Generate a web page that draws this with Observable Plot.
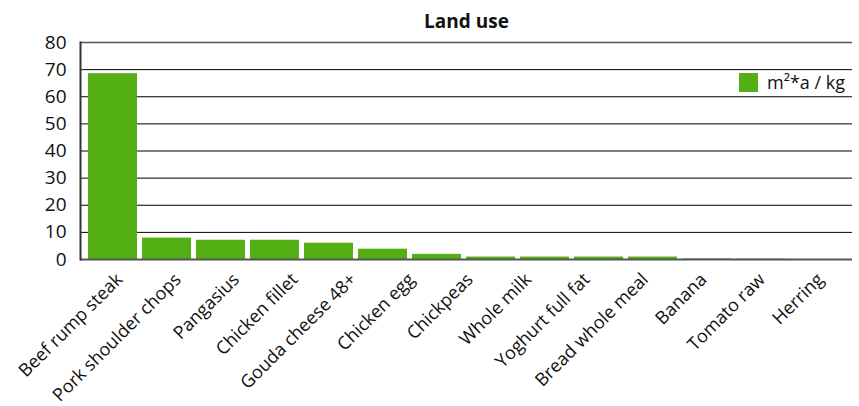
<!DOCTYPE html>
<html>
<head>
<meta charset="utf-8">
<script src="https://cdn.jsdelivr.net/npm/d3@7"></script>
<script src="https://cdn.jsdelivr.net/npm/@observablehq/plot@0.6"></script>
<style>
  body { margin: 0; background: #fff; font-family: "Open Sans", sans-serif; }
  #wrap { position: relative; width: 859px; height: 406px; }
  #wrap svg { position: absolute; left: 0; top: 0; }
  #legend { position: absolute; left: 739px; top: 72px; display: flex; align-items: center; font-size: 18px; color: #111; line-height: 20px; }
  #legend .sw { width: 19px; height: 19px; background: #53af14; margin-right: 9px; }
</style>
</head>
<body>
<div id="wrap"></div>
<script>
const categories = ["Beef rump steak", "Pork shoulder chops", "Pangasius", "Chicken fillet", "Gouda cheese 48+", "Chicken egg", "Chickpeas", "Whole milk", "Yoghurt full fat", "Bread whole meal", "Banana", "Tomato raw", "Herring"];
const values = [68.5, 7.9, 7.1, 7.1, 6.0, 3.8, 1.9, 0.9, 0.9, 0.9, 0.9, 0.2, 0.15];
const yTicks = [0, 10, 20, 30, 40, 50, 60, 70, 80];
const title = "Land use";
const seriesName = "m²*a / kg";

const data = categories.map((c, i) => ({category: c, value: values[i]}));
const green = "#53af14";
const font = "'Open Sans', sans-serif";
const common = {width: 859, height: 406, marginTop: 42, marginBottom: 147, marginLeft: 80, marginRight: 7};

const chart = Plot.plot({
  ...common,
  style: {fontFamily: font, color: "#111", background: "#fff"},
  x: {domain: categories, range: [88, 785], paddingInner: 0.0926, paddingOuter: 0, round: false, axis: null},
  y: {domain: [0, 80], ticks: yTicks, label: null},
  marks: [
    Plot.gridY(yTicks.filter(d => d > 0 && d < 80), {stroke: "#000", strokeOpacity: 1, strokeWidth: 1}),
    Plot.gridY([80], {stroke: "#555", strokeOpacity: 1, strokeWidth: 1.5}),
    Plot.barY(data, {x: "category", y: "value", fill: green}),
    Plot.ruleY([0], {stroke: "#555", strokeWidth: 2}),
    Plot.frame({anchor: "left", stroke: "#333", strokeWidth: 2}),
    Plot.axisY(yTicks, {tickSize: 0, tickPadding: 14, fontSize: 19, label: null}),
    Plot.text([title], {frameAnchor: "top", dy: -28, fontWeight: "bold", fontSize: 19})
  ]
});

const labels = Plot.plot({
  ...common,
  style: {fontFamily: font, color: "#111", background: "transparent"},
  x: {type: "point", domain: categories, range: [119, 820], padding: 0, round: false, label: null},
  marks: [
    Plot.axisX({tickSize: 0, tickRotate: -45, tickPadding: 17, fontSize: 18, label: null})
  ]
});

const wrap = document.getElementById("wrap");
wrap.appendChild(chart);
wrap.appendChild(labels);
const lg = document.createElement("div");
lg.id = "legend";
lg.innerHTML = `<span class="sw"></span><span>${seriesName}</span>`;
wrap.appendChild(lg);
</script>
</body>
</html>
